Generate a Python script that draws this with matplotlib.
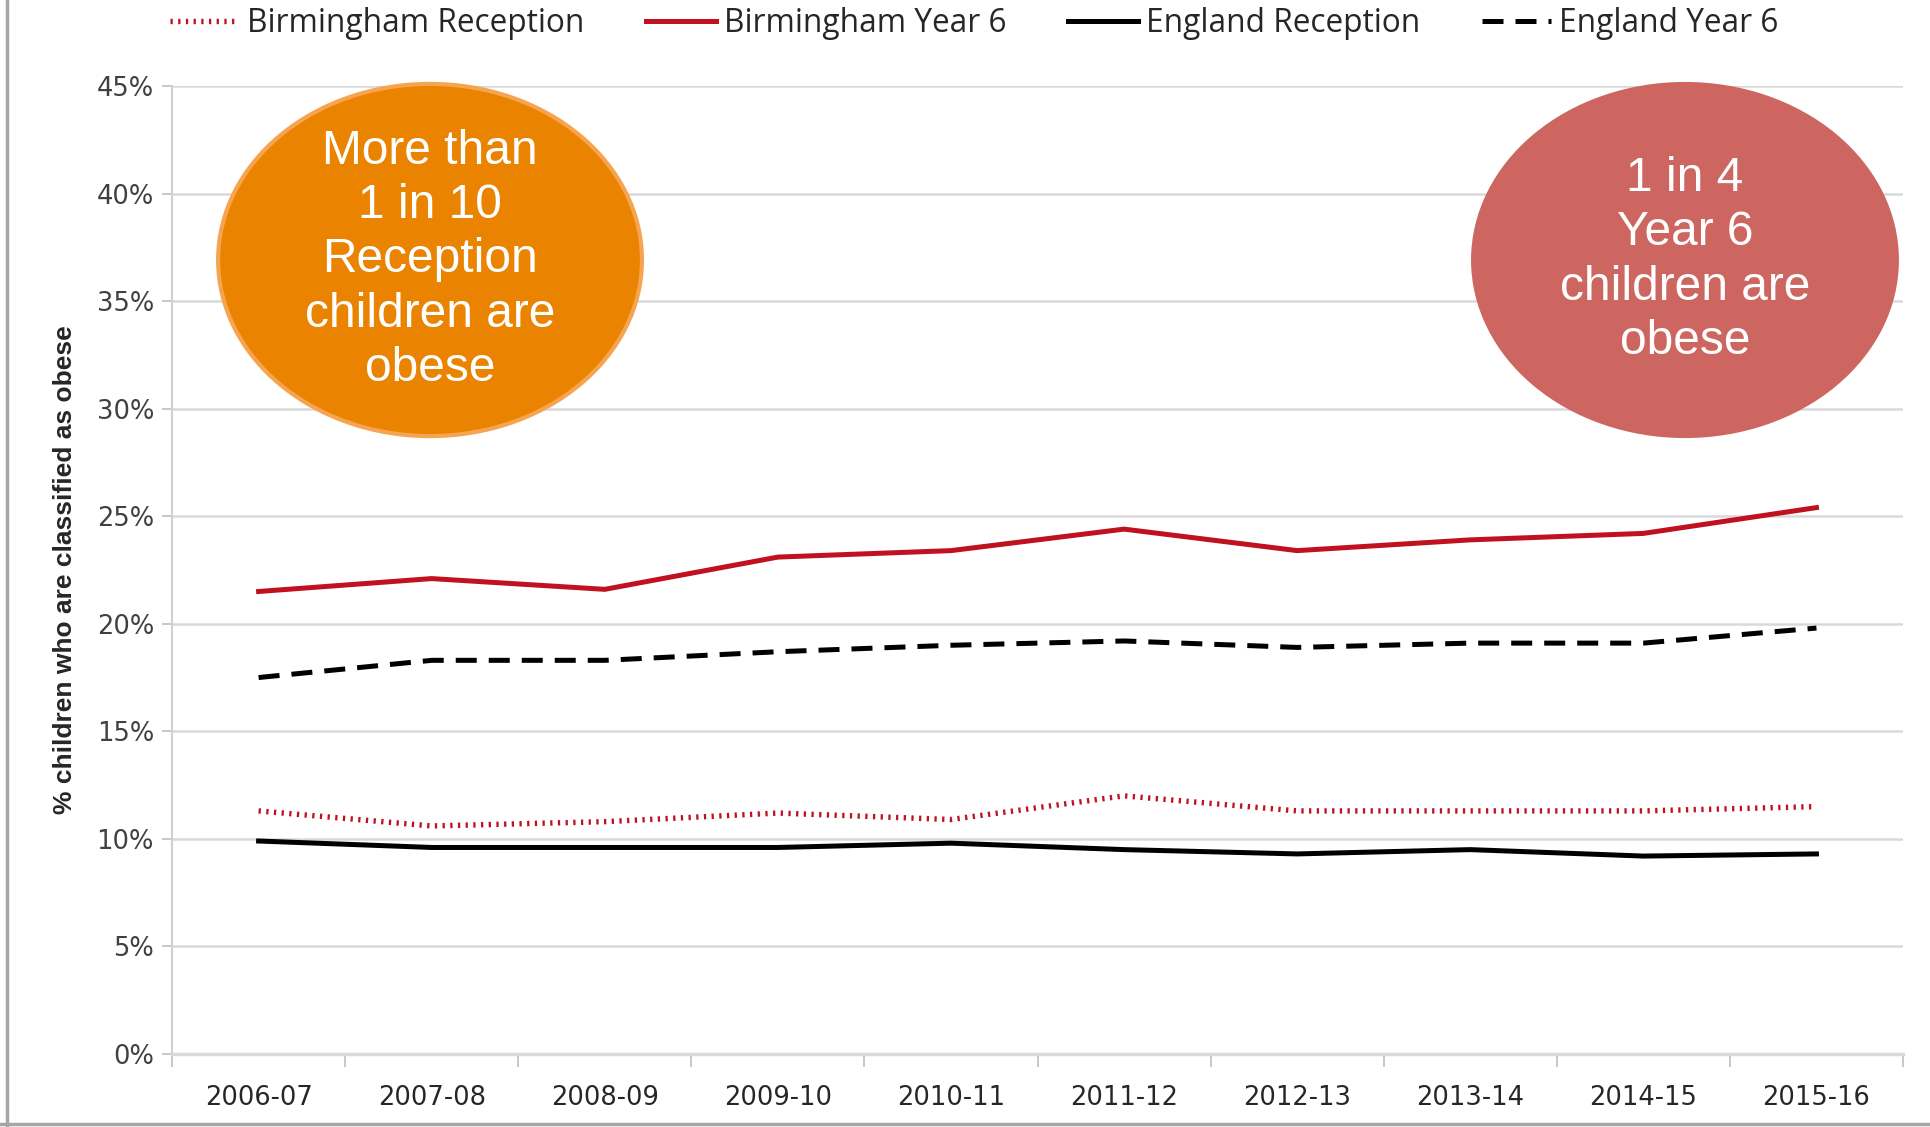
import matplotlib
matplotlib.use("Agg")
import matplotlib.pyplot as plt
from matplotlib.patches import Ellipse
from matplotlib.lines import Line2D
from matplotlib.ticker import FixedLocator, PercentFormatter

years = ["2006-07", "2007-08", "2008-09", "2009-10", "2010-11",
         "2011-12", "2012-13", "2013-14", "2014-15", "2015-16"]
birmingham_reception = [11.3, 10.6, 10.8, 11.2, 10.9, 12.0, 11.3, 11.3, 11.3, 11.5]
birmingham_year6 = [21.5, 22.1, 21.6, 23.1, 23.4, 24.4, 23.4, 23.9, 24.2, 25.4]
england_reception = [9.9, 9.6, 9.6, 9.6, 9.8, 9.5, 9.3, 9.5, 9.2, 9.3]
england_year6 = [17.5, 18.3, 18.3, 18.7, 19.0, 19.2, 18.9, 19.1, 19.1, 19.8]
yticks = [0, 5, 10, 15, 20, 25, 30, 35, 40, 45]

RED = "#C0111F"
fig = plt.figure(figsize=(19.31, 11.27), dpi=100)
ax = fig.add_axes([0.0891, 0.0648, 0.8964, 0.8589])
x = list(range(len(years)))

ax.plot(x, birmingham_reception, color=RED, lw=3.9, linestyle=(0, (0.42, 1.0)),
        label="Birmingham Reception", zorder=3)
ax.plot(x, birmingham_year6, color=RED, lw=3.6, label="Birmingham Year 6", zorder=3)
ax.plot(x, england_reception, color="black", lw=3.6, label="England Reception", zorder=3)
ax.plot(x, england_year6, color="black", lw=3.6, linestyle=(0, (4.2, 2.4)),
        label="England Year 6", zorder=3)

ax.set_xlim(-0.5, len(years) - 0.5)
ax.set_ylim(0, 45)
ax.set_yticks(yticks)
ax.yaxis.set_major_formatter(PercentFormatter(decimals=0))
ax.set_xticks(x)
ax.set_xticklabels(years)
ax.xaxis.set_minor_locator(FixedLocator([i - 0.5 for i in range(len(years) + 1)]))
ax.tick_params(axis="x", which="major", length=0, pad=22, labelsize=18.5, labelcolor="#262626")
ax.tick_params(axis="x", which="minor", length=9, width=1.2, color="#BFBFBF")
ax.tick_params(axis="y", length=7, width=1.2, color="#BFBFBF", labelsize=18.5,
               labelcolor="#404040", pad=6)
for lab in ax.get_xticklabels() + ax.get_yticklabels():
    lab.set_family("DejaVu Sans")
ax.grid(axis="y", color="#D9D9D9", lw=1.8, zorder=0)
ax.set_axisbelow(True)
for s in ["top", "right"]:
    ax.spines[s].set_visible(False)
ax.spines["left"].set_color("#D0D0D0")
ax.spines["left"].set_linewidth(1.5)
ax.spines["bottom"].set_color("#D9D9D9")
ax.spines["bottom"].set_linewidth(2.5)

ax.set_ylabel("% children who are classified as obese", fontsize=19, fontweight="bold",
              family="Liberation Sans", color="#262626", labelpad=14)

handles, labels = ax.get_legend_handles_labels()
leg = fig.legend(handles, labels, loc="center", bbox_to_anchor=(0.5045, 0.979), ncol=4,
                 frameon=False, handlelength=2.2, handletextpad=0.25, columnspacing=1.95,
                 prop={"family": "Open Sans", "size": 22.8})
for t in leg.get_texts():
    t.set_color("#262626")

# callout ellipses
e1 = Ellipse((0.2227, 0.7693), 0.2195, 0.3125, transform=fig.transFigure,
             facecolor="#E98300", edgecolor="#F6A450", lw=3, zorder=5)
e2 = Ellipse((0.8726, 0.7693), 0.2216, 0.316, transform=fig.transFigure,
             facecolor="#CD6660", edgecolor="none", zorder=5)
fig.add_artist(e1)
fig.add_artist(e2)
fig.text(0.2227, 0.7693, "More than\n1 in 10\nReception\nchildren are\nobese", ha="center",
         va="center", color="white", fontsize=34.5, family="Liberation Sans", linespacing=1.27,
         zorder=6)
fig.text(0.8726, 0.7693, "1 in 4\nYear 6\nchildren are\nobese", ha="center",
         va="center", color="white", fontsize=34.5, family="Liberation Sans", linespacing=1.27,
         zorder=6)

# outer frame lines (left and bottom)
fig.add_artist(Line2D([0.0036, 0.0036], [0.0, 1.0], transform=fig.transFigure,
                      color="#A6A6A6", lw=2.5))
fig.add_artist(Line2D([0.0, 1.0], [0.0025, 0.0025], transform=fig.transFigure,
                      color="#A6A6A6", lw=2.5))

fig.savefig("out.png", dpi=100, facecolor="white")
